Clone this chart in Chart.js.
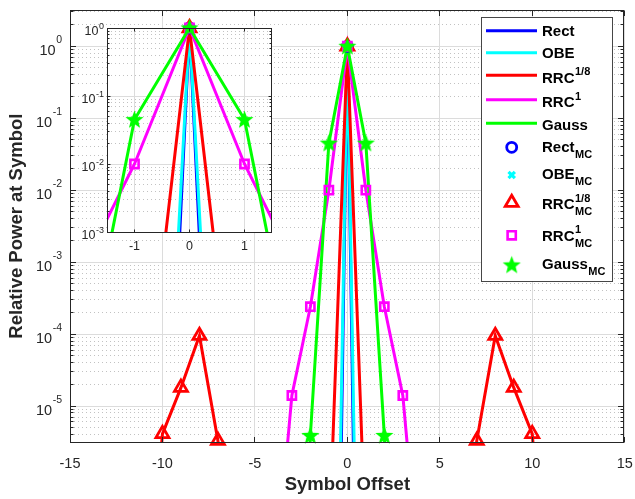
<!DOCTYPE html>
<html lang="en">
<head>
<meta charset="UTF-8">
<title>Relative Power at Symbol</title>
<script src="https://cdn.jsdelivr.net/npm/chart.js"></script>
<style>
  body { margin: 0; background: #fff; }
  #wrap { position: relative; width: 635px; height: 499px; }
  #mainChart { position: absolute; left: 0; top: 0; }
  #insetChart { position: absolute; left: 70px; top: 15px; }
</style>
</head>
<body>
<div id="wrap">
  <canvas id="mainChart" width="635" height="499"></canvas>
  <canvas id="insetChart" width="215" height="245"></canvas>
</div>
<script>
  // symbol offsets and theoretical relative power per pulse shape
  const offsets = [-15,-14,-13,-12,-11,-10,-9,-8,-7,-6,-5,-4,-3,-2,-1,0,1,2,3,4,5,6,7,8,9,10,11,12,13,14,15];
  const rectPower = [1e-20,1e-20,1e-20,1e-20,1e-20,1e-20,1e-20,1e-20,1e-20,1e-20,1e-20,1e-20,1e-20,1e-20,1e-17,1,1e-17,1e-20,1e-20,1e-20,1e-20,1e-20,1e-20,1e-20,1e-20,1e-20,1e-20,1e-20,1e-20,1e-20,1e-20];
  const obePower = [1e-18,1e-18,1e-18,1e-18,1e-18,1e-18,1e-18,1e-18,1e-18,1e-18,1e-18,1e-18,1e-18,1e-18,1e-15,1,1e-15,1e-18,1e-18,1e-18,1e-18,1e-18,1e-18,1e-18,1e-18,1e-18,1e-18,1e-18,1e-18,1e-18,1e-18];
  const rrc8Power = [1e-9,1e-9,1e-9,1e-9,3e-9,4.1e-6,1.8e-5,9.5e-5,3.3e-6,1e-8,1e-8,1e-8,1e-8,1e-8,1e-7,1,1e-7,1e-8,1e-8,1e-8,1e-8,1e-8,3.3e-6,9.5e-5,1.8e-5,4.1e-6,3e-9,1e-9,1e-9,1e-9,1e-9];
  const rrc1Power = [1e-9,1e-9,1e-9,1e-9,1e-9,1e-9,1e-9,1e-9,1e-9,1e-9,1e-9,2e-8,1.4e-5,2.4e-4,1e-2,1,1e-2,2.4e-4,1.4e-5,2e-8,1e-9,1e-9,1e-9,1e-9,1e-9,1e-9,1e-9,1e-9,1e-9,1e-9,1e-9];
  const gaussPower = [1e-20,1e-20,1e-20,1e-20,1e-20,1e-20,1e-20,1e-20,1e-20,1e-20,1e-20,1e-20,7e-13,3.9e-6,0.045,1,0.045,3.9e-6,7e-13,1e-20,1e-20,1e-20,1e-20,1e-20,1e-20,1e-20,1e-20,1e-20,1e-20,1e-20,1e-20];

  // Monte Carlo estimates (only the offsets that were measurable)
  const rectMcX = [0];
  const rectMcY = [1];
  const obeMcX = [0];
  const obeMcY = [1];
  const rrc8McX = [-10,-9,-8,-7,0,7,8,9,10];
  const rrc8McY = [4.1e-6,1.8e-5,9.5e-5,3.3e-6,1,3.3e-6,9.5e-5,1.8e-5,4.1e-6];
  const rrc1McX = [-3,-2,-1,0,1,2,3];
  const rrc1McY = [1.4e-5,2.4e-4,1e-2,1,1e-2,2.4e-4,1.4e-5];
  const gaussMcX = [-2,-1,0,1,2];
  const gaussMcY = [3.9e-6,0.045,1,0.045,3.9e-6];

  // tick labels
  const mainXTicks = [-15,-10,-5,0,5,10,15];
  const mainYDecades = [0,-1,-2,-3,-4,-5];
  const insetXTicks = [-1,0,1];
  const insetYDecades = [0,-1,-2,-3];

  const FONT = '"Liberation Sans", Arial, Helvetica, sans-serif';
  const INK = '#262626';
  const LINE_W = 3;

  function starImage(r) {
    const c = document.createElement('canvas');
    const s = Math.ceil(r * 2 + 2);
    c.width = s; c.height = s;
    const g = c.getContext('2d');
    g.translate(s / 2, s / 2 + 0.5);
    g.beginPath();
    for (let i = 0; i < 10; i++) {
      const rr = i % 2 ? r * 0.43 : r;
      const ang = -Math.PI / 2 + i * Math.PI / 5;
      g.lineTo(rr * Math.cos(ang), rr * Math.sin(ang));
    }
    g.closePath();
    g.fillStyle = '#00ff00';
    g.fill();
    return c;
  }
  const star = starImage(9.5);

  const lineSeries = [
    { name: 'Rect', sup: '', values: rectPower, color: '#0000ff' },
    { name: 'OBE', sup: '', values: obePower, color: '#00ffff' },
    { name: 'RRC', sup: '1/8', values: rrc8Power, color: '#ff0000' },
    { name: 'RRC', sup: '1', values: rrc1Power, color: '#ff00ff' },
    { name: 'Gauss', sup: '', values: gaussPower, color: '#00ff00' }
  ];
  const mcSeries = [
    { name: 'Rect', sup: '', xs: rectMcX, ys: rectMcY, color: '#0000ff', style: 'circle', radius: 5, width: 2.8 },
    { name: 'OBE', sup: '', xs: obeMcX, ys: obeMcY, color: '#00ffff', style: 'crossRot', radius: 4.5, width: 3.2 },
    { name: 'RRC', sup: '1/8', xs: rrc8McX, ys: rrc8McY, color: '#ff0000', style: 'triangle', radius: 7.5, width: 2.8 },
    { name: 'RRC', sup: '1', xs: rrc1McX, ys: rrc1McY, color: '#ff00ff', style: 'rect', radius: 5.8, width: 2.6 },
    { name: 'Gauss', sup: '', xs: gaussMcX, ys: gaussMcY, color: '#00ff00', style: star, radius: 9.5, width: 0 }
  ];

  function buildDatasets() {
    const ds = [];
    lineSeries.forEach((s, i) => ds.push({
      data: offsets.map((x, k) => ({ x: x, y: s.values[k] })),
      borderColor: s.color,
      borderWidth: LINE_W,
      pointRadius: 0,
      fill: false,
      tension: 0,
      clip: 0,
      order: 20 - i
    }));
    mcSeries.forEach((s, i) => ds.push({
      data: s.xs.map((x, k) => ({ x: x, y: s.ys[k] })),
      showLine: false,
      pointStyle: s.style,
      pointRadius: s.radius,
      pointBorderWidth: s.width,
      pointBorderColor: s.color,
      pointBackgroundColor: 'rgba(0,0,0,0)',
      clip: false,
      order: 10 - i
    }));
    return ds;
  }

  function logMinors(min, max) {
    const out = [];
    for (let e = Math.floor(Math.log10(min)); e <= Math.ceil(Math.log10(max)); e++) {
      for (let m = 2; m <= 9; m++) {
        const v = m * Math.pow(10, e);
        if (v > min && v < max) out.push(v);
      }
    }
    return out;
  }

  const crisp = v => Math.floor(v) + 0.5;
  function seg(ctx, x0, y0, x1, y1) {
    ctx.beginPath(); ctx.moveTo(x0, y0); ctx.lineTo(x1, y1); ctx.stroke();
  }

  // grid, box, ticks and tick labels in MATLAB style
  function framePlugin(cfg) {
    return {
      id: 'frame',
      beforeDatasetsDraw(chart) {
        const { ctx, chartArea: a, scales: { x, y } } = chart;
        ctx.save();
        ctx.fillStyle = '#fff';
        ctx.fillRect(a.left, a.top, a.right - a.left, a.bottom - a.top);
        ctx.lineWidth = 1;
        ctx.strokeStyle = '#c2c2c2';
        ctx.setLineDash([1, 3]);
        logMinors(cfg.yMin, cfg.yMax).forEach(v => {
          const py = crisp(y.getPixelForValue(v));
          seg(ctx, a.left, py, a.right, py);
        });
        ctx.setLineDash([]);
        ctx.strokeStyle = '#dcdcdc';
        cfg.xTicks.forEach(v => {
          const px = crisp(x.getPixelForValue(v));
          seg(ctx, px, a.top, px, a.bottom);
        });
        cfg.yDecades.forEach(e => {
          const py = crisp(y.getPixelForValue(Math.pow(10, e)));
          seg(ctx, a.left, py, a.right, py);
        });
        ctx.restore();
      },
      afterDatasetsDraw(chart) {
        const { ctx, chartArea: a, scales: { x, y } } = chart;
        const L = crisp(a.left), R = crisp(a.right - 1), T = crisp(a.top), B = crisp(a.bottom);
        ctx.save();
        ctx.strokeStyle = INK;
        ctx.lineWidth = 1;
        ctx.strokeRect(L, T, R - L, B - T);
        cfg.xTicks.forEach(v => {
          const px = crisp(x.getPixelForValue(v));
          seg(ctx, px, B, px, B - cfg.tickLen);
          seg(ctx, px, T, px, T + cfg.tickLen);
        });
        cfg.yDecades.forEach(e => {
          const py = crisp(y.getPixelForValue(Math.pow(10, e)));
          seg(ctx, L, py, L + cfg.tickLen, py);
          seg(ctx, R, py, R - cfg.tickLen, py);
        });
        logMinors(cfg.yMin, cfg.yMax).forEach(v => {
          const py = crisp(y.getPixelForValue(v));
          seg(ctx, L, py, L + cfg.minorLen, py);
          seg(ctx, R, py, R - cfg.minorLen, py);
        });

        ctx.fillStyle = INK;
        ctx.textBaseline = 'alphabetic';
        ctx.textAlign = 'center';
        ctx.font = cfg.tickFont + 'px ' + FONT;
        cfg.xTicks.forEach(v => ctx.fillText(String(v), x.getPixelForValue(v), a.bottom + cfg.xLabelDy));

        ctx.textAlign = 'right';
        cfg.yDecades.forEach(e => {
          const py = y.getPixelForValue(Math.pow(10, e));
          const exp = String(e);
          ctx.font = cfg.expFont + 'px ' + FONT;
          const ew = ctx.measureText(exp).width;
          ctx.fillText(exp, cfg.yLabelRight, py + cfg.expDy);
          ctx.font = cfg.tickFont + 'px ' + FONT;
          ctx.fillText('10', cfg.yLabelRight - ew - 0.5, py + cfg.baseDy);
        });

        if (cfg.xTitle) {
          ctx.font = 'bold ' + cfg.titleFont + 'px ' + FONT;
          ctx.textAlign = 'center';
          ctx.fillText(cfg.xTitle, (a.left + a.right) / 2, cfg.xTitleY);
          ctx.save();
          ctx.translate(cfg.yTitleX, (a.top + a.bottom) / 2);
          ctx.rotate(-Math.PI / 2);
          ctx.fillText(cfg.yTitle, 0, 0);
          ctx.restore();
        }
        ctx.restore();
        if (cfg.legend) drawLegend(ctx);
      }
    };
  }

  function drawMarker(ctx, s, cx, cy) {
    ctx.save();
    ctx.strokeStyle = s.color;
    ctx.lineWidth = s.width;
    ctx.beginPath();
    if (s.style === 'circle') {
      ctx.arc(cx, cy, s.radius, 0, Math.PI * 2);
    } else if (s.style === 'crossRot') {
      const d = s.radius * Math.SQRT1_2;
      ctx.moveTo(cx - d, cy - d); ctx.lineTo(cx + d, cy + d);
      ctx.moveTo(cx + d, cy - d); ctx.lineTo(cx - d, cy + d);
    } else if (s.style === 'triangle') {
      const r = s.radius;
      ctx.moveTo(cx, cy - r);
      ctx.lineTo(cx + r * Math.sin(Math.PI * 2 / 3), cy + r / 2);
      ctx.lineTo(cx - r * Math.sin(Math.PI * 2 / 3), cy + r / 2);
      ctx.closePath();
    } else if (s.style === 'rect') {
      const h = s.radius * Math.SQRT1_2;
      ctx.rect(cx - h, cy - h, h * 2, h * 2);
    } else {
      ctx.drawImage(s.style, cx - s.style.width / 2, cy - s.style.height / 2);
      ctx.restore();
      return;
    }
    ctx.stroke();
    ctx.restore();
  }

  function drawLabel(ctx, name, sup, sub, x, base) {
    ctx.font = 'bold 15px ' + FONT;
    ctx.textAlign = 'left';
    ctx.fillText(name, x, base);
    const w = ctx.measureText(name).width + 0.5;
    ctx.font = 'bold 11px ' + FONT;
    if (sup) ctx.fillText(sup, x + w, base - 7.5);
    if (sub) ctx.fillText(sub, x + w, base + 6);
  }

  function drawLegend(ctx) {
    const box = { left: 481, top: 17, right: 612, bottom: 281 };
    const lineRows = [[30.7, 36], [52.7, 58], [75.3, 82.5], [99.7, 107], [123.3, 129.5]];
    const mcRows = [[147.3, 152], [175, 179], [202.7, 209.3], [235.3, 240.7], [265, 269]];
    ctx.save();
    ctx.fillStyle = '#fff';
    ctx.fillRect(box.left, box.top, box.right - box.left, box.bottom - box.top);
    ctx.strokeStyle = 'rgba(38,38,38,0.85)';
    ctx.lineWidth = 1;
    ctx.strokeRect(box.left + 0.5, box.top + 0.5, box.right - box.left, box.bottom - box.top);
    ctx.fillStyle = '#000';
    ctx.textBaseline = 'alphabetic';
    lineSeries.forEach((s, i) => {
      const [ly, base] = lineRows[i];
      ctx.strokeStyle = s.color;
      ctx.lineWidth = LINE_W;
      seg(ctx, 486, ly, 537, ly);
      drawLabel(ctx, s.name, s.sup, '', 542, base);
    });
    mcSeries.forEach((s, i) => {
      const [my, base] = mcRows[i];
      drawMarker(ctx, s, 511.7, my);
      drawLabel(ctx, s.name, s.sup, 'MC', 542, base);
    });
    ctx.restore();
  }

  function makeChart(id, cfg) {
    return new Chart(document.getElementById(id), {
      type: 'line',
      data: { datasets: buildDatasets() },
      options: {
        responsive: false,
        animation: false,
        devicePixelRatio: 1,
        events: [],
        layout: { padding: cfg.padding },
        plugins: { legend: { display: false }, tooltip: { enabled: false } },
        scales: {
          x: {
            type: 'linear', min: cfg.xMin, max: cfg.xMax,
            ticks: { display: false }, grid: { display: false }, border: { display: false },
            afterFit: s => { s.height = cfg.xAxisHeight; }
          },
          y: {
            type: 'logarithmic', min: cfg.yMin, max: cfg.yMax,
            ticks: { display: false }, grid: { display: false }, border: { display: false },
            afterFit: s => { s.width = cfg.yAxisWidth; }
          }
        }
      },
      plugins: [framePlugin(cfg)]
    });
  }

  makeChart('mainChart', {
    xMin: -15, xMax: 15, yMin: Math.pow(10, -5.5), yMax: Math.pow(10, 0.5),
    xTicks: mainXTicks, yDecades: mainYDecades,
    padding: { left: 0, top: 5, right: 9, bottom: 0 },
    xAxisHeight: 57, yAxisWidth: 70,
    tickLen: 5.5, minorLen: 3,
    tickFont: 14.5, expFont: 10.5, xLabelDy: 26, yLabelRight: 62, baseDy: 8.5, expDy: -2.8,
    titleFont: 18.5, xTitle: 'Symbol Offset', xTitleY: 490,
    yTitle: 'Relative Power at Symbol', yTitleX: 22,
    legend: true
  });

  makeChart('insetChart', {
    xMin: -1.5, xMax: 1.5, yMin: 1e-3, yMax: 1,
    xTicks: insetXTicks, yDecades: insetYDecades,
    padding: { left: 0, top: 13, right: 13, bottom: 0 },
    xAxisHeight: 28, yAxisWidth: 37,
    tickLen: 3, minorLen: 2,
    tickFont: 12.5, expFont: 9, xLabelDy: 18, yLabelRight: 34, baseDy: 6.7, expDy: 1.3,
    legend: false
  });
</script>
</body>
</html>
